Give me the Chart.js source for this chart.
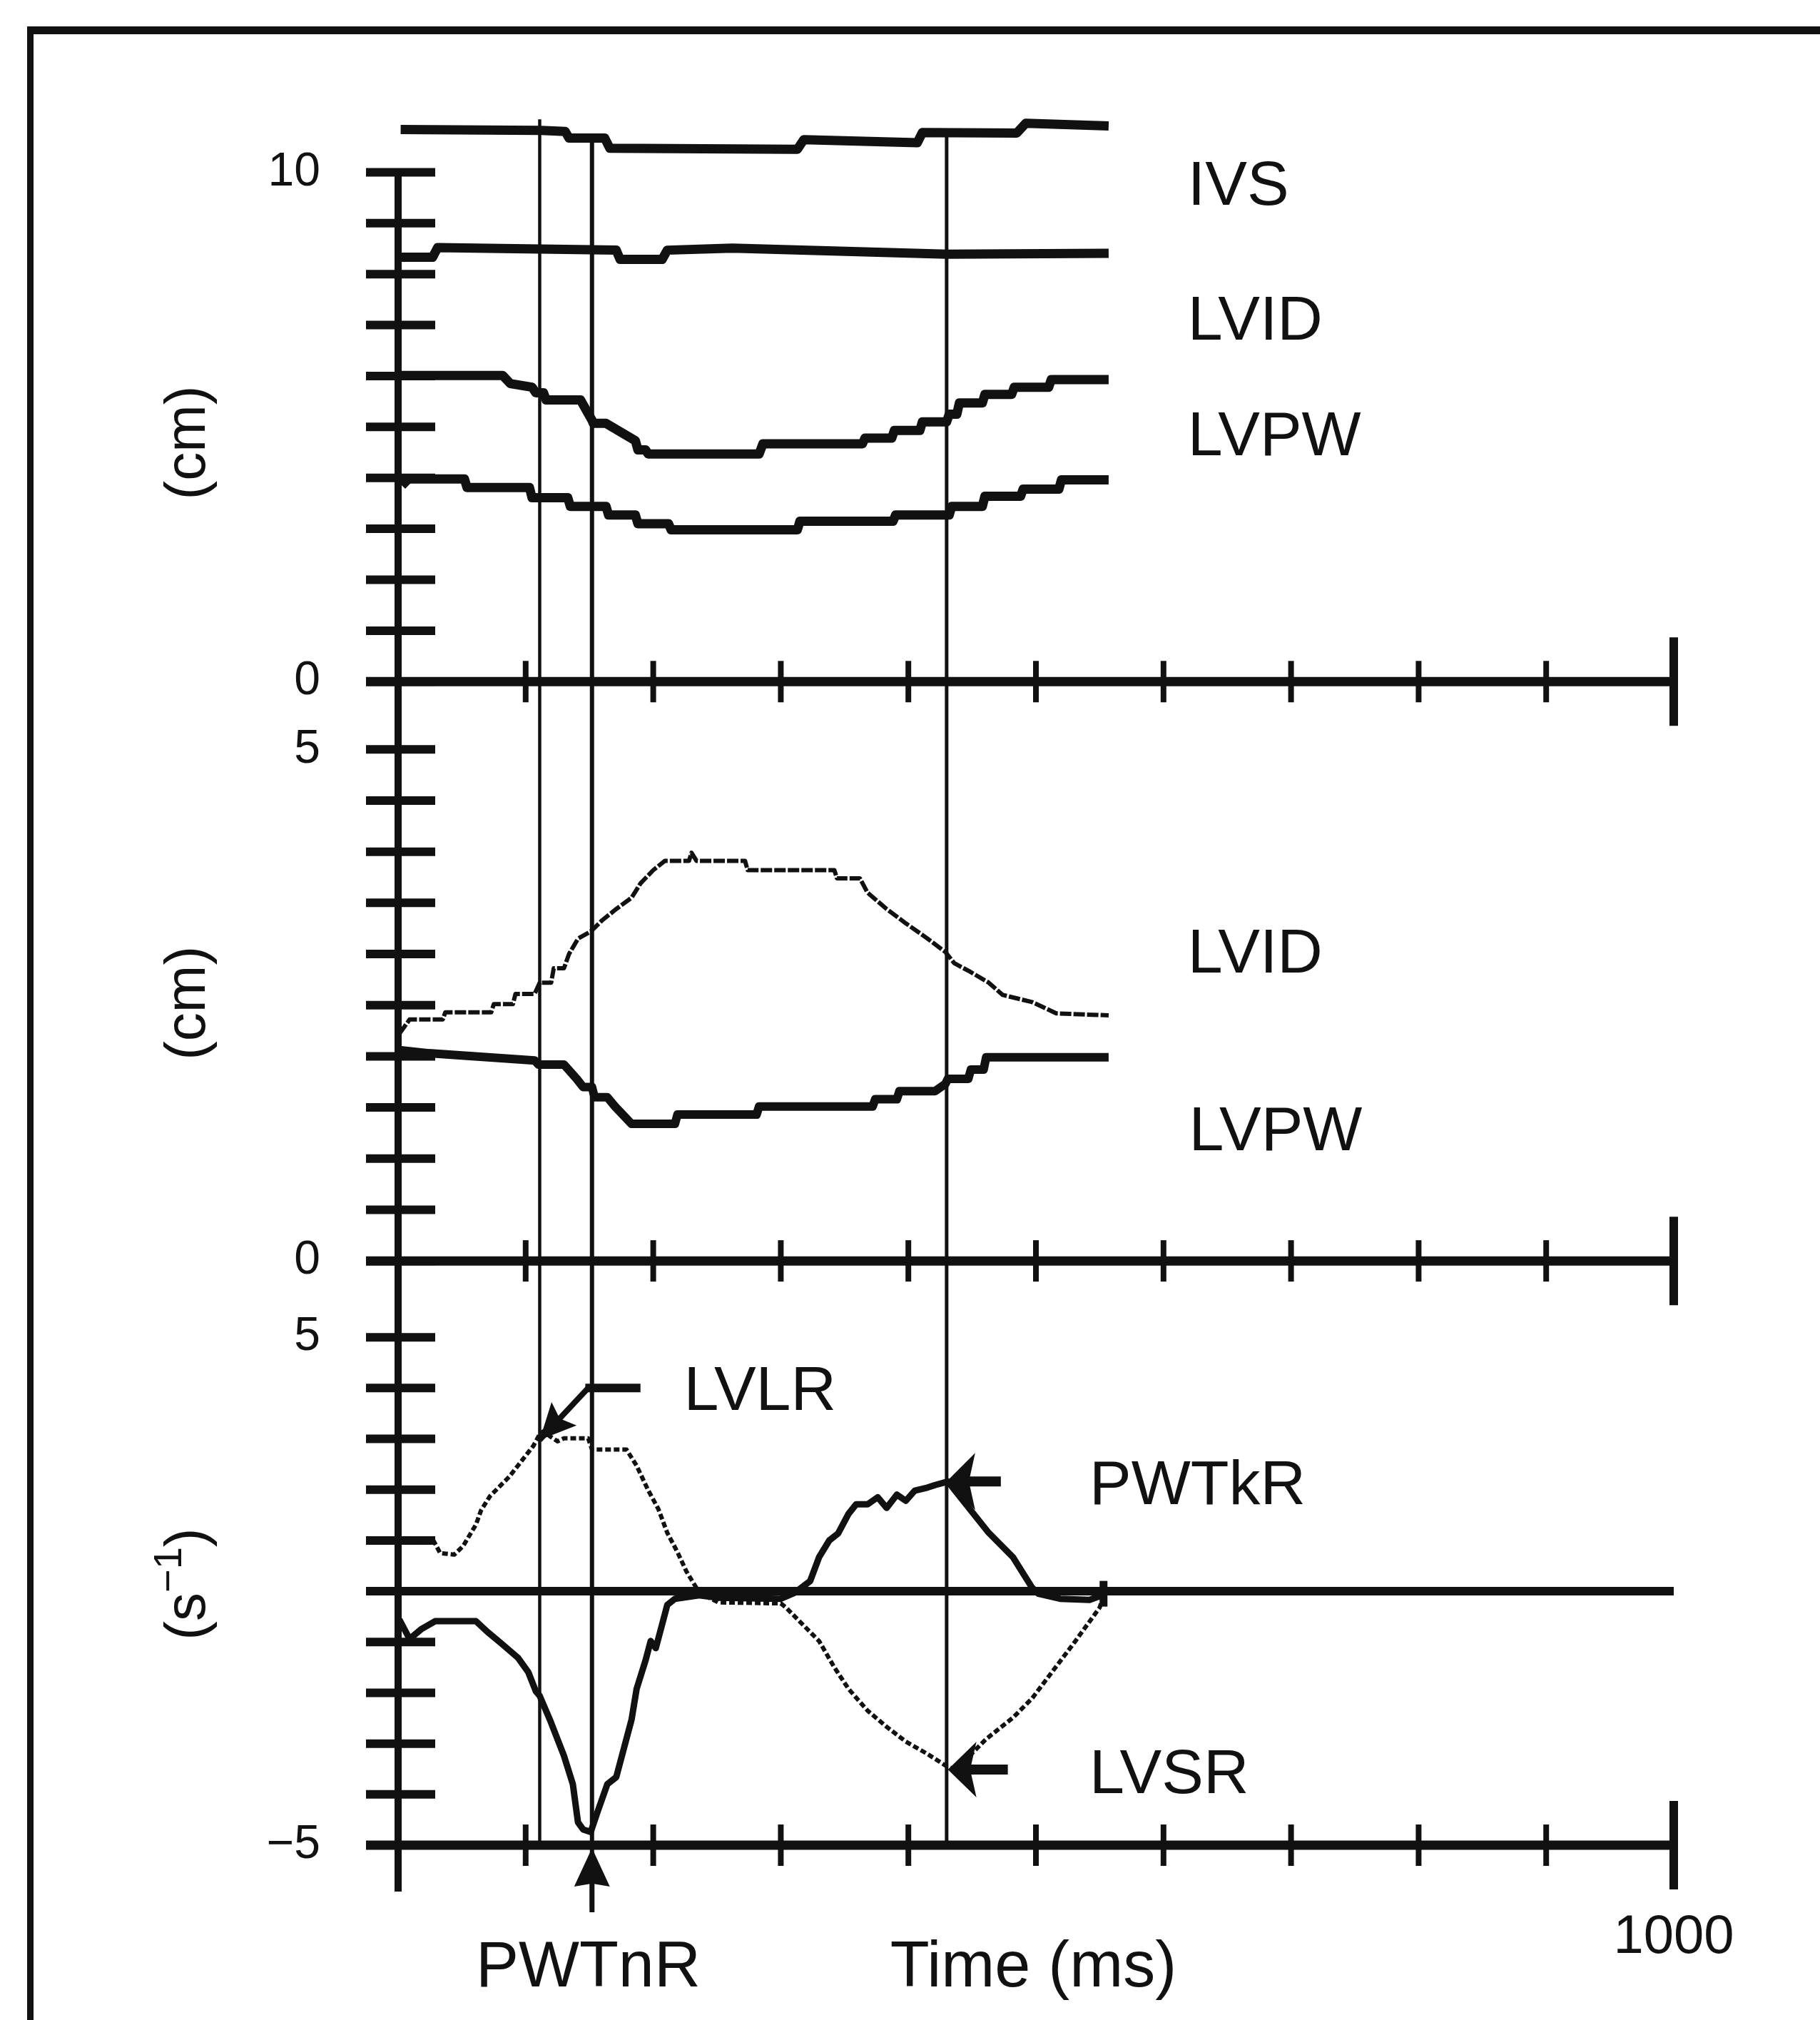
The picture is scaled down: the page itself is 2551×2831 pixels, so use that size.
<!DOCTYPE html>
<html><head><meta charset="utf-8">
<style>
html,body{margin:0;padding:0;background:#fff;}
#wrap{position:relative;width:2551px;height:2831px;overflow:hidden;background:#fff;}
#frame{position:absolute;left:38px;top:37px;width:2700px;height:2900px;border-top:11px solid #111;border-left:9px solid #111;box-sizing:border-box;}
canvas{position:absolute;left:0;top:0;}
</style>
<script src="https://cdn.jsdelivr.net/npm/chart.js@4.4.1/dist/chart.umd.min.js"></script>
</head><body>
<div id="wrap"><div id="frame"></div><canvas id="c" width="2551" height="2831"></canvas></div>
<script>
// ---------------- data (time in ms) ----------------
const timeTicks = [100, 200, 300, 400, 500, 600, 700, 800, 900];
const timeEnd = 1000;
const topTicks = [0,1,2,3,4,5,6,7,8,9,10];
const midTicks = [0,0.5,1,1.5,2,2.5,3,3.5,4,4.5,5];
const botTicks = [-5,-4,-3,-2,-1,0,1,2,3,4,5];
const topTickLabels = {'10':'10','0':'0'};
const midTickLabels = {'5':'5','0':'0'};
const botTickLabels = {'5':'5','-5':'\u22125'};
const eventTimes = [111, 152, 430];

// top panel (cm): four echo boundaries
const ivsTop = [[2,10.84],[112,10.82],[131,10.80],[134,10.67],[162,10.67],[166,10.47],[313,10.45],[318,10.64],[407,10.58],[411,10.78],[485,10.77],[492,10.96],[557,10.91]];
const ivsBottom = [[2,8.33],[27,8.33],[31,8.52],[171,8.47],[174,8.29],[207,8.29],[211,8.47],[262,8.51],[430,8.39],[557,8.41]];
const pwTop = [[0,6.01],[82,6.01],[88,5.85],[105,5.78],[108,5.67],[114,5.67],[116,5.53],[143,5.53],[152,5.13],[153,5.07],[163,5.07],[186,4.73],[188,4.55],[194,4.55],[196,4.47],[283,4.47],[286,4.67],[364,4.67],[366,4.78],[387,4.78],[389,4.93],[409,4.93],[411,5.10],[430,5.10],[432,5.25],[438,5.25],[440,5.47],[458,5.47],[460,5.64],[481,5.64],[483,5.78],[510,5.78],[512,5.93],[557,5.93]];
const pwBottom = [[3,3.85],[8,3.98],[52,3.98],[54,3.81],[103,3.81],[105,3.61],[133,3.61],[135,3.44],[163,3.44],[165,3.27],[186,3.27],[188,3.10],[212,3.10],[214,2.98],[313,2.98],[315,3.15],[388,3.15],[390,3.27],[432,3.27],[434,3.44],[458,3.44],[460,3.64],[488,3.64],[490,3.78],[518,3.78],[520,3.96],[557,3.96]];

// middle panel (cm): LVID and LVPW
const lvidMid = [[1,2.22],[9,2.36],[35,2.36],[37,2.43],[73,2.43],[75,2.51],[90,2.51],[92,2.61],[107,2.61],[111,2.72],[120,2.72],[122,2.86],[130,2.86],[134,3.00],[141,3.15],[151,3.22],[160,3.33],[171,3.44],[183,3.55],[190,3.69],[200,3.82],[209,3.91],[228,3.91],[230,3.99],[234,3.91],[272,3.91],[274,3.82],[342,3.82],[344,3.74],[362,3.74],[368,3.60],[383,3.44],[398,3.30],[414,3.16],[429,3.02],[436,2.91],[448,2.83],[463,2.72],[474,2.60],[497,2.53],[516,2.42],[557,2.40]];
const lvpwMid = [[1,2.06],[24,2.03],[107,1.96],[110,1.92],[130,1.92],[140,1.78],[145,1.70],[152,1.70],[154,1.60],[164,1.60],[170,1.51],[183,1.34],[217,1.34],[219,1.43],[281,1.43],[283,1.51],[372,1.51],[374,1.58],[391,1.58],[393,1.66],[421,1.66],[429,1.73],[431,1.78],[447,1.78],[449,1.87],[459,1.87],[461,1.99],[557,1.99]];

// bottom panel (s^-1): wall thickening rate (solid) and LV dimension rate (dotted)
const pwtRate = [[1,-0.56],[9,-0.94],[18,-0.75],[29,-0.59],[61,-0.59],[70,-0.80],[81,-1.03],[94,-1.31],[102,-1.59],[108,-1.97],[111,-2.06],[119,-2.53],[130,-3.24],[137,-3.80],[141,-4.55],[145,-4.69],[151,-4.74],[156,-4.37],[164,-3.80],[171,-3.66],[183,-2.53],[187,-1.92],[194,-1.36],[198,-0.98],[202,-1.12],[207,-0.65],[211,-0.27],[217,-0.15],[236,-0.08],[251,-0.13],[300,-0.15],[311,-0.03],[323,0.20],[330,0.67],[338,1.00],[345,1.14],[353,1.52],[359,1.71],[368,1.71],[376,1.85],[383,1.64],[391,1.90],[398,1.78],[405,1.98],[415,2.04],[421,2.09],[431,2.16],[436,2.00],[463,1.15],[482,0.67],[497,0.07],[502,-0.05],[519,-0.15],[542,-0.17],[553,-0.07]];
const lvRate = [[1,0.98],[27,1.03],[33,0.75],[44,0.72],[51,0.89],[61,1.31],[65,1.59],[72,1.87],[87,2.25],[106,2.86],[111,3.09],[114,3.15],[119,3.05],[125,2.95],[130,3.01],[149,3.01],[152,2.79],[179,2.79],[187,2.47],[196,1.99],[204,1.62],[211,1.15],[219,0.77],[226,0.39],[234,0.06],[240,-0.08],[251,-0.22],[300,-0.24],[304,-0.32],[315,-0.60],[326,-0.88],[330,-0.98],[342,-1.50],[353,-1.92],[368,-2.35],[383,-2.67],[398,-2.96],[414,-3.19],[429,-3.43],[437,-3.52],[461,-2.91],[482,-2.49],[497,-2.11],[531,-0.98],[550,-0.32],[553,-0.08]];

// ---------------- styling / layout ----------------
const INK = '#111';
const FONT = '"Liberation Sans", Arial, Helvetica, sans-serif';
const AXIS_BOX_W = 558;

const labels = [
  {text:'IVS',  axis:'yTop', t:619, v:9.36},
  {text:'LVID', axis:'yTop', t:619, v:6.72},
  {text:'LVPW', axis:'yTop', t:619, v:4.45},
  {text:'LVID', axis:'yMid', t:619, v:2.82},
  {text:'LVPW', axis:'yMid', t:620, v:1.08},
  {text:'LVLR', axis:'yBot', t:224, v:3.57},
  {text:'PWTkR',axis:'yBot', t:542, v:1.71},
  {text:'LVSR', axis:'yBot', t:542, v:-3.97}
];

function fixedTicks(values){ return s => { s.ticks = values.map(v => ({value:v})); }; }
function labelFrom(map){ return v => (map[String(v)] !== undefined ? map[String(v)] : ''); }
function yAxis(min, max, weight, stackWeight, ticks, map){
  return {
    type:'linear', position:'left', stack:'panels', stackWeight, weight, min, max,
    afterBuildTicks: fixedTicks(ticks),
    afterFit: s => { s.width = AXIS_BOX_W; },
    grid:{display:false, drawTicks:false},
    border:{display:false},
    ticks:{autoSkip:false, padding:109, color:INK, font:{family:FONT, size:66}, callback: labelFrom(map)}
  };
}
function ds(pts, yAxisID, w, dash){
  return {data: pts.map(([x,y]) => ({x, y})), yAxisID, xAxisID:'x', borderColor:INK, borderWidth:w,
    borderDash: dash || [], pointRadius:0, tension:0, fill:false, borderJoinStyle:'round', borderCapStyle:'butt'};
}

function line(ctx, x1, y1, x2, y2, w){
  ctx.lineWidth = w; ctx.beginPath(); ctx.moveTo(x1, y1); ctx.lineTo(x2, y2); ctx.stroke();
}
function arrowHead(ctx, tx, ty, ux, uy, len, hw, notch){
  const bx = -ux, by = -uy, px = -uy, py = ux;
  ctx.beginPath();
  ctx.moveTo(tx, ty);
  ctx.lineTo(tx + bx*len + px*hw, ty + by*len + py*hw);
  ctx.lineTo(tx + bx*len*notch, ty + by*len*notch);
  ctx.lineTo(tx + bx*len - px*hw, ty + by*len - py*hw);
  ctx.closePath(); ctx.fill();
}

const decor = {
  id:'decor',
  beforeDatasetsDraw(chart){
    const ctx = chart.ctx, sx = chart.scales.x, st = chart.scales.yTop, sm = chart.scales.yMid, sb = chart.scales.yBot;
    const x0 = sx.getPixelForValue(0), xe = sx.getPixelForValue(timeEnd);
    ctx.save(); ctx.strokeStyle = INK; ctx.fillStyle = INK; ctx.lineCap = 'butt';
    // event lines
    const evTop = [11.04, 10.73, 10.76], evBot = [-5, -6.25, -5], evW = [4.5, 6, 5];
    eventTimes.forEach((t, i) => {
      const x = sx.getPixelForValue(t);
      line(ctx, x, st.getPixelForValue(evTop[i]), x, sb.getPixelForValue(evBot[i]), evW[i]);
    });
    // y axis spine
    line(ctx, x0, st.getPixelForValue(10) - 4, x0, sb.getPixelForValue(-5) + 65, 10);
    // y tick marks (crossing)
    [[st, topTicks], [sm, midTicks], [sb, botTicks]].forEach(([s, tv]) => {
      tv.forEach(v => { const y = s.getPixelForValue(v); line(ctx, x0 - 45, y, x0 + 52, y, 12); });
    });
    // horizontal time axes
    [[st, 0], [sm, 0], [sb, -5]].forEach(([s, v]) => {
      const y = s.getPixelForValue(v);
      line(ctx, x0 - 45, y, xe, y, 13);
      timeTicks.forEach(t => { const x = sx.getPixelForValue(t); line(ctx, x, y - 29, x, y + 29, 8); });
      line(ctx, xe, y - 62, xe, y + 62, 12);
    });
    // zero line of rate panel
    const yz = sb.getPixelForValue(0);
    line(ctx, x0 - 45, yz, xe, yz, 12);
    ctx.restore();
  },
  afterDatasetsDraw(chart){
    const ctx = chart.ctx, sx = chart.scales.x, sb = chart.scales.yBot;
    ctx.save(); ctx.strokeStyle = INK; ctx.fillStyle = INK; ctx.lineCap = 'butt';
    // LVLR pointer
    const tipX = sx.getPixelForValue(111), tipY = sb.getPixelForValue(2.98);
    const kX = sx.getPixelForValue(149), kY = sb.getPixelForValue(4.0), eX = sx.getPixelForValue(190);
    ctx.lineWidth = 8; ctx.beginPath(); ctx.moveTo(tipX, tipY); ctx.lineTo(kX, kY); ctx.stroke();
    line(ctx, kX - 4, kY, eX, kY, 12);
    let dx = tipX - kX, dy = tipY - kY, d = Math.hypot(dx, dy);
    arrowHead(ctx, tipX, tipY, dx/d, dy/d, 50, 24, 0.82);
    // PWTkR pointer
    let ax = sx.getPixelForValue(430), ay = sb.getPixelForValue(2.16);
    arrowHead(ctx, ax, ay, -1, 0, 40, 40, 0.78);
    line(ctx, ax + 25, ay, ax + 76, ay, 14);
    // LVSR pointer
    ax = sx.getPixelForValue(431); ay = sb.getPixelForValue(-3.51);
    arrowHead(ctx, ax, ay, -1, 0, 40, 39, 0.78);
    line(ctx, ax + 25, ay, ax + 84, ay, 14);
    // PWTnR pointer (below time axis)
    ax = sx.getPixelForValue(152); ay = sb.getPixelForValue(-5) + 4;
    arrowHead(ctx, ax, ay, 0, -1, 54, 25, 0.92);
    line(ctx, ax, ay + 40, ax, ay + 90, 7);
    // end mark of rate traces
    const mX = sx.getPixelForValue(553), mY = sb.getPixelForValue(-0.05);
    line(ctx, mX, mY - 18, mX, mY + 18, 11);
    // trace labels
    ctx.textBaseline = 'alphabetic'; ctx.textAlign = 'left';
    ctx.font = '88px ' + FONT;
    labels.forEach(l => {
      ctx.fillText(l.text, sx.getPixelForValue(l.t), chart.scales[l.axis].getPixelForValue(l.v));
    });
    // time axis texts
    const yb = sb.getPixelForValue(-5);
    ctx.textAlign = 'center';
    ctx.font = '90px ' + FONT;
    ctx.fillText('PWTnR', sx.getPixelForValue(149), yb + 198);
    ctx.fillText('Time (ms)', sx.getPixelForValue(498), yb + 198);
    ctx.font = '76px ' + FONT;
    ctx.fillText(String(timeEnd), sx.getPixelForValue(timeEnd), yb + 151);
    // y axis unit titles (rotated)
    const unitX = 265;
    const drawRot = (cy, parts) => {
      ctx.save(); ctx.translate(unitX, cy); ctx.rotate(-Math.PI/2);
      let total = 0;
      parts.forEach(p => { ctx.font = p.size + 'px ' + FONT; p.w = ctx.measureText(p.text).width; total += p.w; });
      let x = -total/2;
      ctx.textAlign = 'left'; ctx.textBaseline = 'middle';
      parts.forEach(p => { ctx.font = p.size + 'px ' + FONT; ctx.fillText(p.text, x, p.rise || 0); x += p.w; });
      ctx.restore();
    };
    drawRot(chart.scales.yTop.getPixelForValue(4.69), [{text:'(cm)', size:80}]);
    drawRot(chart.scales.yMid.getPixelForValue(2.52), [{text:'(cm)', size:80}]);
    drawRot(sb.getPixelForValue(0.14), [{text:'(s', size:80}, {text:'\u22121', size:56, rise:-26}, {text:')', size:80}]);
    ctx.restore();
  }
};

new Chart(document.getElementById('c'), {
  type:'line',
  data:{datasets:[
    ds(ivsTop, 'yTop', 13), ds(ivsBottom, 'yTop', 13), ds(pwTop, 'yTop', 13), ds(pwBottom, 'yTop', 13),
    ds(lvidMid, 'yMid', 6, [16,3]), ds(lvpwMid, 'yMid', 12),
    ds(pwtRate, 'yBot', 9), ds(lvRate, 'yBot', 6, [8,4])
  ]},
  options:{
    responsive:false, animation:false, events:[],
    layout:{padding:{left:0, right:205, top:148.2, bottom:245}},
    plugins:{legend:{display:false}, tooltip:{enabled:false}, title:{display:false}},
    scales:{
      x:{type:'linear', min:0, max:timeEnd, display:false},
      yTop: yAxis(0, 11.3, 3, 806.8, topTicks, topTickLabels),
      yMid: yAxis(0, 5.663, 2, 812, midTicks, midTickLabels),
      yBot: yAxis(-5, 6.503, 1, 819, botTicks, botTickLabels)
    }
  },
  plugins:[decor]
});
</script>
</body></html>
